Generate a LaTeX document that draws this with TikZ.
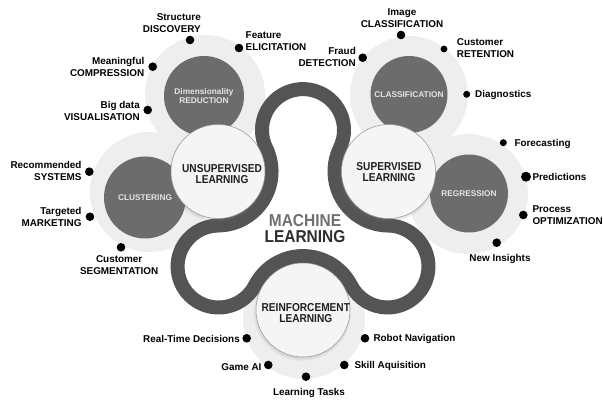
\documentclass[tikz,border=0pt]{standalone}
\usepackage{fontspec}
\setmainfont{Liberation Sans}
\usetikzlibrary{shadows,calc}
\definecolor{haloc}{RGB}{238,238,238}
\definecolor{darkc}{RGB}{108,108,108}
\definecolor{darktext}{RGB}{228,228,228}
\definecolor{bandc}{RGB}{84,84,84}
\definecolor{mainfill}{RGB}{245,245,245}
\definecolor{mainedge}{RGB}{150,150,150}
\definecolor{machc}{RGB}{112,112,112}
\definecolor{learnc}{RGB}{45,45,45}
\begin{document}
\begin{tikzpicture}[x=1pt,y=-1pt,
  lbl/.style={font=\bfseries\fontsize{9.9}{12}\selectfont, inner sep=0pt, text=black},
  dot/.style={circle, fill=black, inner sep=0pt, minimum size=#1},
  dot/.default=8.6pt,
  halo/.style={circle, fill=haloc, inner sep=0pt, minimum size=#1},
  halo/.default=120pt,
  dark/.style={circle, fill=darkc, inner sep=0pt, minimum size=#1, text=darktext,
    font=\bfseries\fontsize{8.3}{9.5}\selectfont, align=center},
  dark/.default=80pt,
  main/.style={circle, fill=mainfill, draw=mainedge, line width=0.5pt, minimum size=94pt,
    inner sep=0pt, circular drop shadow={shadow xshift=-1pt, shadow yshift=-1.5pt, opacity=0.45, shadow scale=1.05}},
  mainlbl/.style={font=\bfseries\fontsize{11.5}{11.3}\selectfont, align=center, text=black!88, xscale=0.88, inner sep=0pt},
  title/.style={font=\bfseries\fontsize{17.2}{17}\selectfont, xscale=0.9, inner sep=0pt, anchor=base},
  band/.style={draw=bandc, line width=14pt, line join=round}
]
\useasboundingbox (0,0) rectangle (603,401);

% halos
\node[halo] (hD) at (205,95) {};
\node[halo=118pt] (hC) at (409,95) {};
\node[halo] (hK) at (150,192) {};
\node[halo] (hG) at (468,194) {};
\node[halo=122pt] (hR) at (304,318) {};

% dark circles
\node[dark] (dD) at (204,96) {Dimensionality\\REDUCTION};
\node[dark=77pt] (dC) at (409,94.5) {CLASSIFICATION};
\node[dark=82pt] (dK) at (145,197.5) {CLUSTERING};
\node[dark=78pt] (dG) at (469,193.5) {REGRESSION};

% band centres
\coordinate (T) at (303,130.1);
\coordinate (Lc) at (218.55,266.45);
\coordinate (Rc) at (387.45,266.45);
\draw[band] ($(T)+(-205.84:41)$)
  arc[start angle=-205.84, end angle=25.84, radius=41]
  arc[start angle=-154.16, end angle=-269.37, radius=54]
  arc[start angle=-89.37, end angle=152.72, radius=41]
  arc[start angle=-27.28, end angle=-152.72, radius=54]
  arc[start angle=27.28, end angle=269.37, radius=41]
  arc[start angle=-270.63, end angle=-385.84, radius=54] -- cycle;

% main circles
\node[main] (U) at (218,171.5) {};
\node[main] (S) at (388.5,171.5) {};
\node[main] (R) at (303,310) {};
\node[mainlbl] (Ut) at (222,174) {UNSUPERVISED\\LEARNING};
\node[mainlbl] (St) at (389,172.3) {SUPERVISED\\LEARNING};
\node[mainlbl] (Rt) at (305.8,313) {REINFORCEMENT\\LEARNING};

% centre title
\node[title, text=machc] (m1) at (305,226.2) {MACHINE};
\node[title, text=learnc] (m2) at (305,242.2) {LEARNING};

% dimensionality reduction
\node[dot] (d1) at (190,40) {};
\node[lbl, align=right, anchor=east] (t1) at (201,23) {Structure\\DISCOVERY};
\node[dot] (d2) at (239,48) {};
\node[lbl, align=left, anchor=west] (t2) at (245.5,41) {Feature\\ELICITATION};
\node[dot] (d3) at (152.7,66.7) {};
\node[lbl, align=right, anchor=east] (t3) at (144.5,67) {Meaningful\\COMPRESSION};
\node[dot] (d4) at (147.7,110) {};
\node[lbl, align=right, anchor=east] (t4) at (140,110.5) {Big data\\VISUALISATION};

% clustering
\node[dot] (d5) at (89.3,171.7) {};
\node[lbl, align=right, anchor=east] (t5) at (81.7,171) {Recommended\\SYSTEMS};
\node[dot] (d6) at (90,216.7) {};
\node[lbl, align=right, anchor=east] (t6) at (81.7,217) {Targeted\\MARKETING};
\node[dot] (d7) at (121,247.3) {};
\node[lbl, align=center] (t7) at (119.2,265) {Customer\\SEGMENTATION};

% classification
\node[dot] (d8) at (401,35) {};
\node[lbl, align=center] (t8) at (402,18.2) {Image\\CLASSIFICATION};
\node[dot] (d9) at (362.7,57.7) {};
\node[lbl, align=right, anchor=east] (t9) at (356,56.7) {Fraud\\DETECTION};
\node[dot=6.8pt] (d10) at (444,49) {};
\node[lbl, align=left, anchor=west] (t10) at (456.7,48.5) {Customer\\RETENTION};
\node[dot=7pt] (d11) at (466.7,94.3) {};
\node[lbl, anchor=base west] (t11) at (475,97.9) {Diagnostics};

% regression
\node[dot=7pt] (d12) at (503.3,142.7) {};
\node[lbl, anchor=base west] (t12) at (514.3,146.2) {Forecasting};
\node[dot=10pt] (d13) at (526,176.7) {};
\node[lbl, anchor=base west] (t13) at (532.3,180.2) {Predictions};
\node[dot] (d14) at (523.3,215) {};
\node[lbl, align=left, anchor=west] (t14) at (532.3,215) {Process\\OPTIMIZATION};
\node[dot] (d15) at (496.7,242.7) {};
\node[lbl, anchor=base] (t15) at (500,261.9) {New Insights};

% reinforcement
\node[dot] (d16) at (365,338.3) {};
\node[lbl, anchor=base west] (t16) at (373.3,341.9) {Robot Navigation};
\node[dot] (d17) at (344.3,365) {};
\node[lbl, anchor=base west] (t17) at (354.3,368.6) {Skill Aquisition};
\node[dot] (d18) at (306,376.7) {};
\node[lbl, anchor=base] (t18) at (309,395.3) {Learning Tasks};
\node[dot] (d19) at (268.3,365) {};
\node[lbl, anchor=base east] (t19) at (261.7,370.2) {Game AI};
\node[dot] (d20) at (246.7,338.3) {};
\node[lbl, anchor=base east] (t20) at (240,342.6) {Real-Time Decisions};
\end{tikzpicture}
\end{document}
